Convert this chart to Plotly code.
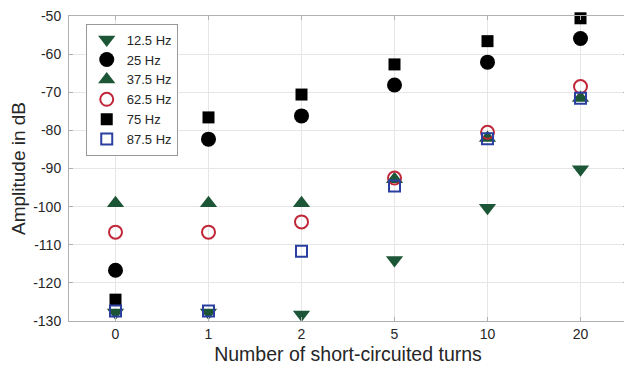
import plotly.graph_objects as go

categories = ["0", "1", "2", "5", "10", "20"]
s_12_5 = [-127.8, -127.8, -128.3, -114.0, -100.3, -90.2]
s_25 = [-116.7, -82.3, -76.2, -68.1, -62.1, -55.9]
s_37_5 = [-99.1, -99.1, -99.1, -92.8, -82.0, -71.5]
s_62_5 = [-106.7, -106.7, -104.0, -92.5, -80.5, -68.5]
s_75 = [-124.4, -76.6, -70.6, -62.7, -56.6, -50.6]
s_87_5 = [-127.4, -127.4, -111.7, -94.6, -82.2, -71.6]
y_ticks = [-130, -120, -110, -100, -90, -80, -70, -60, -50]
y_tick_text = ["-130", "-120", "-110", "-100", "-90", "-80", "-70", "-60", "-50"]

green = "#1d5636"
series = [
    ("12.5 Hz", s_12_5, dict(symbol="triangle-down", size=15, color=green)),
    ("25 Hz", s_25, dict(symbol="circle", size=15, color="black")),
    ("37.5 Hz", s_37_5, dict(symbol="triangle-up", size=15, color=green)),
    ("62.5 Hz", s_62_5, dict(symbol="circle-open", size=13, color="#c0283a", line=dict(width=2))),
    ("75 Hz", s_75, dict(symbol="square", size=12, color="black")),
    ("87.5 Hz", s_87_5, dict(symbol="square-open", size=11, color="#2a3fa0", line=dict(width=2))),
]

fig = go.Figure()
for name, vals, mk in series:
    fig.add_trace(go.Scatter(x=categories, y=vals, mode="markers", name=name, marker=mk,
                             cliponaxis=False))

font_family = "Liberation Sans, Arial, sans-serif"
fig.update_layout(
    width=624, height=358,
    margin=dict(l=61, r=5, t=8, b=45, autoexpand=False),
    paper_bgcolor="white", plot_bgcolor="white",
    font=dict(family=font_family, size=14, color="#262626"),
    showlegend=True,
    legend=dict(
        x=0.03, y=0.975, xanchor="left", yanchor="top",
        bordercolor="#999999", borderwidth=1, bgcolor="white",
        font=dict(size=13, color="#262626"),
        itemsizing="trace", tracegroupgap=0,
    ),
    xaxis=dict(
        type="category", range=[-0.5, 5.5],
        title=dict(text="Number of short-circuited turns", font=dict(size=19.5), standoff=6),
        showgrid=True, gridcolor="#e6e6e6", gridwidth=1,
        showline=True, linecolor="#b0b0b0", linewidth=1, mirror="ticks",
        ticks="inside", ticklen=4, tickcolor="#b0b0b0",
        tickfont=dict(size=14, color="#262626"),
        ticklabelstandoff=0, ticklabeloverflow="allow",
        zeroline=False,
    ),
    yaxis=dict(
        range=[-130, -50], tickvals=y_ticks, ticktext=y_tick_text,
        title=dict(text="Amplitude in dB", font=dict(size=19), standoff=6),
        showgrid=True, gridcolor="#e6e6e6", gridwidth=1,
        showline=True, linecolor="#b0b0b0", linewidth=1, mirror="ticks",
        ticks="inside", ticklen=4, tickcolor="#b0b0b0",
        tickfont=dict(size=14, color="#262626"),
        ticklabelstandoff=4, ticklabeloverflow="allow",
        zeroline=False,
    ),
)

fig.write_html("out.html")
